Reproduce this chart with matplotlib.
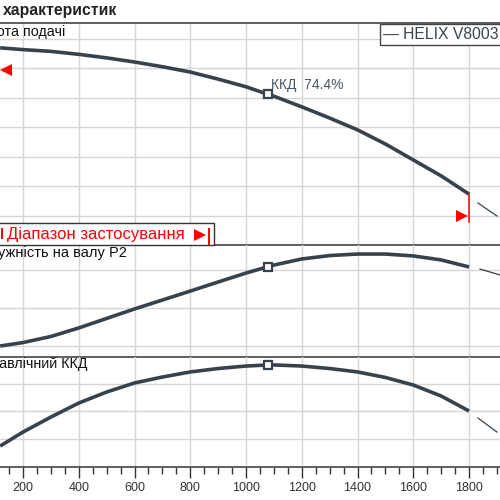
import matplotlib
matplotlib.use("Agg")
import matplotlib.pyplot as plt
from matplotlib.patches import Rectangle
from matplotlib.lines import Line2D
import numpy as np

plt.rcParams['font.family'] = ['Liberation Sans', 'DejaVu Sans']

# Подача (вісь X)
Q = [118, 200, 300, 400, 500, 600, 700, 800, 900, 1000, 1080, 1100,
     1200, 1300, 1400, 1500, 1600, 1700, 1800]

# Висота подачі, м
H = [38.5, 38.2, 37.9, 37.4, 36.8, 36.1, 35.3, 34.4, 33.2, 31.9, 30.6, 30.3,
     28.5, 26.6, 24.6, 22.2, 19.5, 16.8, 13.7]

# Потужність на валу P2, кВт
P2 = [8.0, 8.18, 8.5, 8.95, 9.45, 9.95, 10.42, 10.89, 11.37, 11.84, 12.18, 12.26,
      12.58, 12.76, 12.84, 12.84, 12.74, 12.53, 12.16]

# Гідравлічний ККД, %
ETA = [14.5, 24.7, 35.6, 45.8, 53.8, 60.4, 64.7, 68.4, 70.9, 72.7, 73.5, 73.5,
       72.7, 70.9, 68.4, 64.4, 58.9, 50.9, 40.0]

# продовження кривих за межами діапазону
Q_ext_h = [1832, 1900]
H_ext = [12.2, 10.0]
Q_ext_p = [1839, 1911]
P2_ext = [12.05, 11.74]
Q_ext_e = [1832, 1900]
ETA_ext = [34.9, 24.7]

Q_duty = 1080
H_duty = 30.6
P2_duty = 12.18
ETA_duty = 73.5
duty_label = 'ККД  74.4%'

Q_max = 1800
H_range_end = 8.98
range_mark = (1775, 10.0)
left_mark = (139, 34.75)

x_labels = [200, 400, 600, 800, 1000, 1200, 1400, 1600, 1800]

curve_col = '#38424c'
grid_col = '#d6d6d6'
frame_col = '#444444'
red = '#ff0000'

W = 500.0


def fx(px):
    return px / W


def fy(py):
    return 1 - py / W


fig = plt.figure(figsize=(5, 5), dpi=100)

ax_h = fig.add_axes([0, fy(245), 1, 222 / W])
ax_p = fig.add_axes([0, fy(356.5), 1, 111.5 / W])
ax_e = fig.add_axes([0, fy(466.5), 1, 110 / W])

for ax in (ax_h, ax_p, ax_e):
    ax.set_xticks(np.arange(0, 2001, 200))
    ax.set_xticks(np.arange(0, 2001, 50), minor=True)
    ax.set_xlim(117.5, 1911)
    ax.grid(True, which='major', color=grid_col, lw=1.0)
    ax.set_axisbelow(True)
    ax.tick_params(axis='y', length=0, labelleft=False)
    ax.spines['left'].set_visible(False)
    ax.spines['right'].set_visible(False)
    for s in ('top', 'bottom'):
        ax.spines[s].set_color(frame_col)
        ax.spines[s].set_linewidth(1.2)
    ax.patch.set_alpha(0)

ax_h.set_yticks([10, 15, 20, 25, 30, 35, 40])
ax_p.set_yticks([8, 10, 12])
ax_e.set_yticks([20, 40, 60])
ax_h.set_ylim(5.085, 42.71)
ax_p.set_ylim(7.447, 13.316)
ax_e.set_ylim(-0.36, 79.64)

ax_p.spines['top'].set_visible(False)
ax_e.spines['top'].set_visible(False)

for ax in (ax_h, ax_p):
    ax.tick_params(axis='x', which='both', length=0, labelbottom=False)

ax_e.set_xticklabels([str(v) if v in x_labels else '' for v in range(0, 2001, 200)])
ax_e.tick_params(axis='x', which='major', length=8, width=1, color='#333333',
                 pad=3.5, labelsize=9, labelcolor='#333333')
ax_e.tick_params(axis='x', which='minor', length=4.8, width=1, color='#333333')
ax_e.set_xlim(117.5, 1911)

# криві
ax_h.plot(Q, H, color=curve_col, lw=2.6, solid_capstyle='butt')
ax_p.plot(Q, P2, color=curve_col, lw=2.6, solid_capstyle='butt')
ax_e.plot(Q, ETA, color=curve_col, lw=2.6, solid_capstyle='butt')

ax_h.plot(Q_ext_h, H_ext, color=curve_col, lw=0.9)
ax_p.plot(Q_ext_p, P2_ext, color=curve_col, lw=0.9)
ax_e.plot(Q_ext_e, ETA_ext, color=curve_col, lw=0.9)

for ax, yv in ((ax_h, H_duty), (ax_p, P2_duty), (ax_e, ETA_duty)):
    ax.plot([Q_duty], [yv], marker='s', ms=5.5, mfc='white', mec=curve_col,
            mew=1.6, zorder=5)

ax_h.annotate(duty_label, xy=(Q_duty, H_duty), xytext=(3, 9.5),
              textcoords='offset pixels', ha='left', va='center',
              fontsize=10, color='#4a5563')

# межі діапазону застосування
ax_h.plot([Q_max, Q_max], [H[-1], H_range_end], color=red, lw=1.1)
ax_h.plot([range_mark[0]], [range_mark[1]], marker='>', ms=8, color=red, mew=0)
ax_h.plot([left_mark[0]], [left_mark[1]], marker='<', ms=8, color=red, mew=0)

# підписи панелей
fig.text(fx(3), fy(11), 'характеристик', fontsize=11.3, fontweight='bold',
         ha='left', va='center', color='#222222')
fig.text(fx(65), fy(32), 'Висота подачі', fontsize=10.3, ha='right', va='center',
         color='#111111')
fig.text(fx(127), fy(253), 'Потужність на валу P2', fontsize=10.5, ha='right',
         va='center', color='#111111')
fig.text(fx(87), fy(364), 'Гідравлічний ККД', fontsize=10.3, ha='right',
         va='center', color='#111111')

# легенда
fig.add_artist(Rectangle((fx(380), fy(44.5)), 130 / W, 20.5 / W,
                         transform=fig.transFigure, facecolor='white',
                         edgecolor=frame_col, lw=1.0, zorder=4))
fig.text(fx(383), fy(34), '— HELIX V8003', fontsize=11.3, ha='left',
         va='center', color='#3a4450', zorder=5)

# рамка "Діапазон застосування"
fig.add_artist(Rectangle((fx(-5), fy(244.5)), 219 / W, 21.5 / W,
                         transform=fig.transFigure, facecolor='white',
                         edgecolor='#333333', lw=1.0, zorder=4))
fig.text(fx(7), fy(234.5), 'Діапазон застосування', fontsize=12, ha='left',
         va='center', color=red, zorder=5)
fig.add_artist(Line2D([fx(200)], [fy(235)], marker='>', ms=8, color=red, mew=0,
                      transform=fig.transFigure, zorder=5))
fig.add_artist(Line2D([fx(208.5), fx(208.5)], [fy(229), fy(244)], color=red,
                      lw=1.4, transform=fig.transFigure, zorder=5))
fig.add_artist(Line2D([fx(2), fx(2)], [fy(229), fy(238)], color=red,
                      lw=1.4, transform=fig.transFigure, zorder=5))

fig.savefig('out.png', dpi=100)
